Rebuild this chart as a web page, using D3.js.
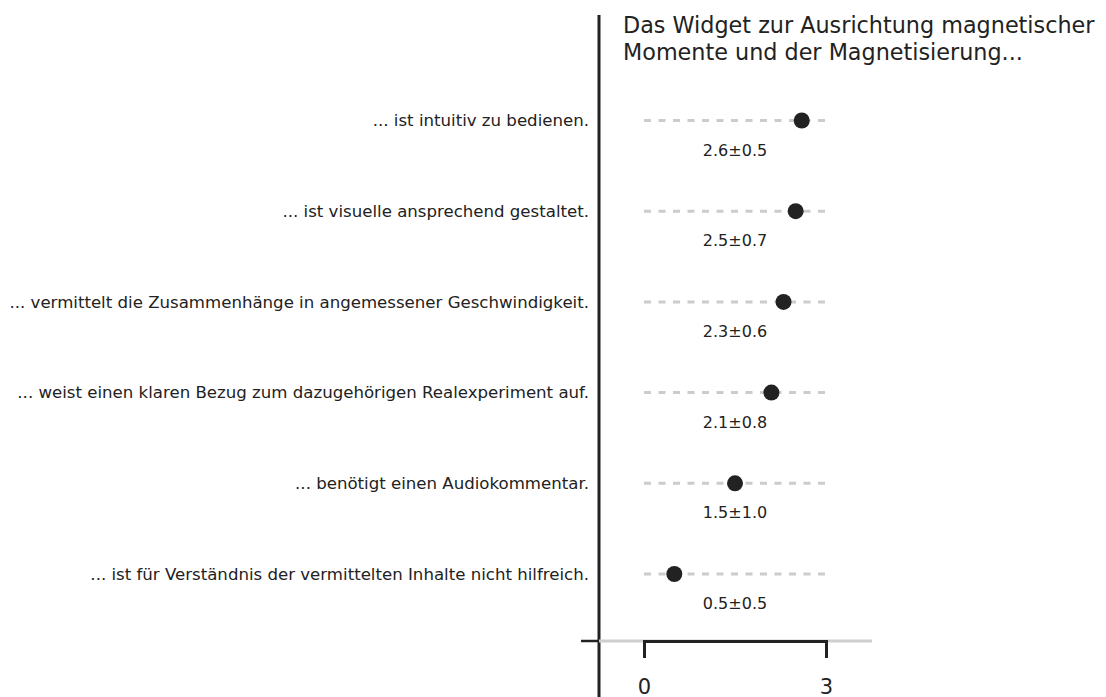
<!DOCTYPE html>
<html>
<head>
<meta charset="utf-8">
<script src="https://cdn.jsdelivr.net/npm/d3@7"></script>
<style>
  html, body { margin: 0; padding: 0; background: #fff; }
  svg { display: block; }
  text { font-family: "DejaVu Sans", "Liberation Sans", sans-serif; fill: #222; }
</style>
</head>
<body>
<svg id="chart" width="1106" height="697"></svg>
<script>
// Survey statements (top to bottom)
const statements = [
  "... ist intuitiv zu bedienen.",
  "... ist visuelle ansprechend gestaltet.",
  "... vermittelt die Zusammenhänge in angemessener Geschwindigkeit.",
  "... weist einen klaren Bezug zum dazugehörigen Realexperiment auf.",
  "... benötigt einen Audiokommentar.",
  "... ist für Verständnis der vermittelten Inhalte nicht hilfreich."
];
// Mean rating and standard deviation per statement
const means = [2.6, 2.5, 2.3, 2.1, 1.5, 0.5];
const sds   = [0.5, 0.7, 0.6, 0.8, 1.0, 0.5];
// Scale range of the rating
const scaleMin = 0, scaleMax = 3;
const xTicks = [0, 3];
const titleLines = [
  "Das Widget zur Ausrichtung magnetischer",
  "Momente und der Magnetisierung..."
];

const svg = d3.select("#chart");
const ink = "#222";

const x = d3.scaleLinear().domain([scaleMin, scaleMax]).range([644, 826]);
const y = d3.scalePoint().domain(statements).range([120.5, 574]);

const axisX = 599;
const baseY = 641;

// Title
svg.append("text")
  .attr("x", 623)
  .attr("y", 33)
  .style("font-size", "22.3px")
  .selectAll("tspan")
  .data(titleLines)
  .join("tspan")
  .attr("x", 623)
  .attr("dy", (d, i) => i === 0 ? 0 : 27)
  .text(d => d);

// Vertical axis line
svg.append("line")
  .attr("x1", axisX).attr("x2", axisX)
  .attr("y1", 15).attr("y2", 697)
  .attr("stroke", ink).attr("stroke-width", 3);

// Grey baseline and short black stub to the left
svg.append("line")
  .attr("x1", axisX).attr("x2", 872)
  .attr("y1", baseY).attr("y2", baseY)
  .attr("stroke", "#cfcfcf").attr("stroke-width", 3);
svg.append("line")
  .attr("x1", 581).attr("x2", axisX)
  .attr("y1", baseY).attr("y2", baseY)
  .attr("stroke", ink).attr("stroke-width", 2.5);

// Rating axis
const xAxis = svg.append("g")
  .attr("transform", `translate(0,${baseY})`)
  .call(d3.axisBottom(x)
    .tickValues(xTicks)
    .tickFormat(d3.format("d"))
    .tickSize(17).tickSizeOuter(17).tickPadding(21));
xAxis.select(".domain").attr("stroke", ink).attr("stroke-width", 3);
xAxis.selectAll(".tick line").attr("stroke", ink).attr("stroke-width", 3);
xAxis.selectAll(".tick text")
  .attr("fill", ink)
  .style("font-family", "'DejaVu Sans', sans-serif")
  .style("font-size", "21px");

// Statement labels
svg.append("g").selectAll("text")
  .data(statements)
  .join("text")
  .attr("x", 589)
  .attr("y", d => y(d))
  .attr("dy", "0.35em")
  .attr("text-anchor", "end")
  .style("font-size", "16.6px")
  .text(d => d);

const rows = statements.map((s, i) => ({ s, m: means[i], sd: sds[i] }));

// Dashed track across the full scale
svg.append("g").selectAll("line")
  .data(rows)
  .join("line")
  .attr("x1", x(scaleMin)).attr("x2", x(scaleMax))
  .attr("y1", d => y(d.s)).attr("y2", d => y(d.s))
  .attr("stroke", "#cccccc")
  .attr("stroke-width", 3)
  .attr("stroke-dasharray", "7,7.5");

// Mean markers
svg.append("g").selectAll("circle")
  .data(rows)
  .join("circle")
  .attr("cx", d => x(d.m))
  .attr("cy", d => y(d.s))
  .attr("r", 8)
  .attr("fill", ink);

// Mean ± SD labels
svg.append("g").selectAll("text")
  .data(rows)
  .join("text")
  .attr("x", (x(scaleMin) + x(scaleMax)) / 2)
  .attr("y", d => y(d.s) + 35)
  .attr("text-anchor", "middle")
  .style("font-size", "16px")
  .text(d => `${d.m.toFixed(1)}±${d.sd.toFixed(1)}`);
</script>
</body>
</html>
